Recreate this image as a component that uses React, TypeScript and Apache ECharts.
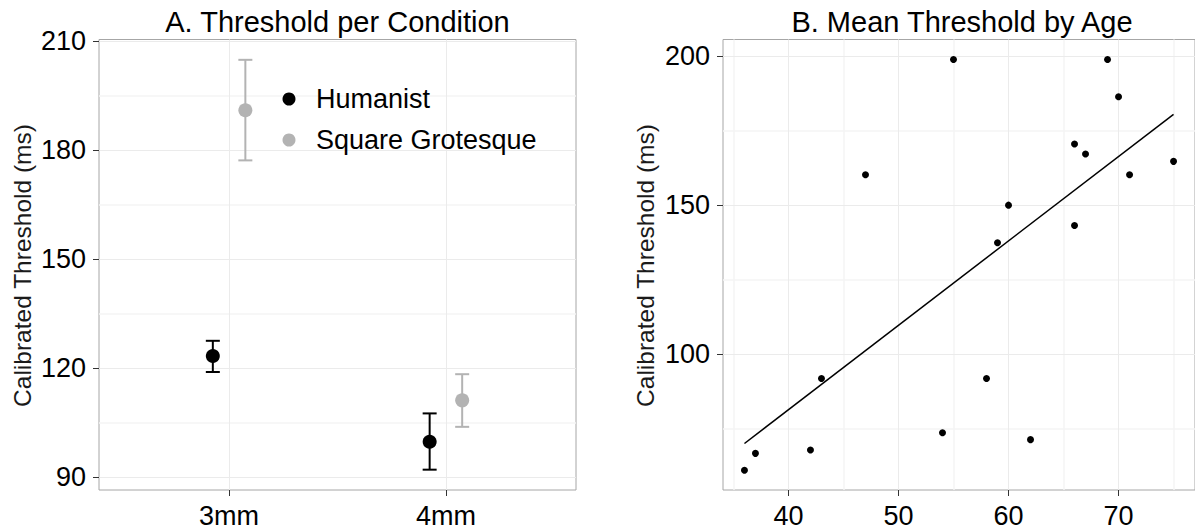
import React, { useEffect, useRef } from "react";
import * as echarts from "echarts";

// ---- Panel A data ----
const conditions = ["3mm", "4mm"];
const humanistMean = [123.3, 99.7];
const humanistLow = [118.9, 92.0];
const humanistHigh = [127.5, 107.5];
const grotesqueMean = [191.0, 111.1];
const grotesqueLow = [177.2, 103.8];
const grotesqueHigh = [204.9, 118.3];
const yTicksA = [90, 120, 150, 180, 210];
const yMinorA = [105, 135, 165, 195];

// ---- Panel B data ----
const ages = [36, 37, 42, 43, 47, 54, 55, 58, 59, 60, 62, 66, 66, 67, 69, 70, 71, 75];
const meanThresholds = [61.0, 66.7, 67.8, 91.8, 160.2, 73.6, 198.9, 91.8, 137.4, 150.0, 71.3, 170.5, 143.2, 167.2, 198.9, 186.4, 160.2, 164.7];
const trendAges = [36, 75];
const trendThresholds = [70.0, 180.5];
const xTicksB = [40, 50, 60, 70];
const xMinorB = [35, 45, 55, 65, 75];
const yTicksB = [100, 150, 200];
const yMinorB = [75, 125, 175];

const FONT = '"Liberation Sans", Arial, Helvetica, sans-serif';
const BLACK = "#000000";
const GREY = "#b3b3b3";
const MAJOR = "#ebebeb";
const MINOR = "#f5f5f5";
const TICK = "#333333";
const DODGE = 0.075;

const gridLines = (xs: number[], ys: number[], color: string, width: number) =>
  [...xs.map((v) => ({ xAxis: v })), ...ys.map((v) => ({ yAxis: v }))].map((d) => ({
    ...d,
    lineStyle: { color, width, type: "solid" as const },
  }));

const errorBarSeries = (name: string, xi: number, yi: number, data: number[][], color: string) => ({
  name,
  type: "custom" as const,
  xAxisIndex: xi,
  yAxisIndex: yi,
  z: 3,
  silent: true,
  encode: { x: 0, y: [1, 2] },
  data,
  renderItem: (params: any, api: any) => {
    const x = api.value(0);
    const lo = api.coord([x, api.value(1)]);
    const hi = api.coord([x, api.value(2)]);
    const hw = 7;
    const st = { stroke: color, lineWidth: 2 };
    return {
      type: "group",
      children: [
        { type: "line", shape: { x1: lo[0], y1: lo[1], x2: hi[0], y2: hi[1] }, style: st },
        { type: "line", shape: { x1: lo[0] - hw, y1: lo[1], x2: lo[0] + hw, y2: lo[1] }, style: st },
        { type: "line", shape: { x1: hi[0] - hw, y1: hi[1], x2: hi[0] + hw, y2: hi[1] }, style: st },
      ],
    };
  },
});

export default function App() {
  const ref = useRef<HTMLDivElement>(null);
  useEffect(() => {
    if (!ref.current) return;
    const chart = echarts.init(ref.current, null, { renderer: "svg" });
    const tickCommon = { show: true, length: 6, lineStyle: { color: TICK, width: 1 } };
    const labelCommon = { color: BLACK, fontSize: 27, fontFamily: FONT };
    const xPos = (i: number, off: number) => i + 1 + off;

    chart.setOption({
      animation: false,
      backgroundColor: "#ffffff",
      grid: [
        { left: 99, top: 39.5, width: 477, height: 452, show: true, borderColor: "#a6a6a6", borderWidth: 1, backgroundColor: "transparent" },
        { left: 723, top: 39.5, width: 478, height: 452, show: true, borderColor: "#a6a6a6", borderWidth: 1, backgroundColor: "transparent" },
      ],
      xAxis: [
        {
          gridIndex: 0, type: "value", min: 0.4, max: 2.6,
          axisLine: { show: false },
          axisTick: { ...tickCommon, customValues: [1, 2] },
          axisLabel: { ...labelCommon, margin: 12, customValues: [1, 2], formatter: (v: number) => conditions[Math.round(v) - 1] },
          splitLine: { show: false },
        },
        {
          gridIndex: 1, type: "value", min: 34.05, max: 76.95,
          axisLine: { show: false },
          axisTick: { ...tickCommon, customValues: xTicksB },
          axisLabel: { ...labelCommon, margin: 12, customValues: xTicksB },
          splitLine: { show: false },
        },
      ],
      yAxis: [
        {
          gridIndex: 0, type: "value", min: 86.4, max: 210.5,
          axisLine: { show: false },
          axisTick: { ...tickCommon, customValues: yTicksA },
          axisLabel: { ...labelCommon, margin: 13, customValues: yTicksA },
          splitLine: { show: false },
        },
        {
          gridIndex: 1, type: "value", min: 54.4, max: 205.6,
          axisLine: { show: false },
          axisTick: { ...tickCommon, customValues: yTicksB },
          axisLabel: { ...labelCommon, margin: 13, customValues: yTicksB },
          splitLine: { show: false },
        },
      ],
      graphic: [
        { type: "text", z: 100, x: 337.5, y: 22, style: { text: "A. Threshold per Condition", fill: BLACK, fontSize: 29, fontFamily: FONT, align: "center", verticalAlign: "middle" } },
        { type: "text", z: 100, x: 962, y: 22, style: { text: "B. Mean Threshold by Age", fill: BLACK, fontSize: 29, fontFamily: FONT, align: "center", verticalAlign: "middle" } },
        { type: "text", z: 100, x: 22, y: 265.5, rotation: Math.PI / 2, style: { text: "Calibrated Threshold (ms)", fill: "#1a1a1a", fontSize: 24.5, fontFamily: FONT, align: "center", verticalAlign: "middle" } },
        { type: "text", z: 100, x: 645, y: 265.5, rotation: Math.PI / 2, style: { text: "Calibrated Threshold (ms)", fill: "#1a1a1a", fontSize: 24.5, fontFamily: FONT, align: "center", verticalAlign: "middle" } },
        { type: "circle", z: 100, shape: { cx: 289, cy: 99, r: 6.5 }, style: { fill: BLACK } },
        { type: "circle", z: 100, shape: { cx: 289, cy: 140, r: 6.5 }, style: { fill: GREY } },
        { type: "text", z: 100, x: 316, y: 99, style: { text: "Humanist", fill: BLACK, fontSize: 27, fontFamily: FONT, align: "left", verticalAlign: "middle" } },
        { type: "text", z: 100, x: 316, y: 140, style: { text: "Square Grotesque", fill: BLACK, fontSize: 27, fontFamily: FONT, align: "left", verticalAlign: "middle" } },
      ],
      series: [
        {
          name: "gridA", type: "scatter", xAxisIndex: 0, yAxisIndex: 0, data: [], silent: true,
          markLine: {
            z: 1, silent: true, symbol: "none", label: { show: false }, emphasis: { disabled: true },
            data: [...gridLines([], yMinorA, MINOR, 1.5), ...gridLines([1, 2], yTicksA, MAJOR, 1)],
          },
        },
        {
          name: "gridB", type: "scatter", xAxisIndex: 1, yAxisIndex: 1, data: [], silent: true,
          markLine: {
            z: 1, silent: true, symbol: "none", label: { show: false }, emphasis: { disabled: true },
            data: [...gridLines(xMinorB, yMinorB, MINOR, 1.5), ...gridLines(xTicksB, yTicksB, MAJOR, 1)],
          },
        },
        errorBarSeries("Humanist SE", 0, 0, conditions.map((_, i) => [xPos(i, -DODGE), humanistLow[i], humanistHigh[i]]), BLACK),
        errorBarSeries("Square Grotesque SE", 0, 0, conditions.map((_, i) => [xPos(i, DODGE), grotesqueLow[i], grotesqueHigh[i]]), GREY),
        {
          name: "Humanist", type: "scatter", xAxisIndex: 0, yAxisIndex: 0, z: 4, symbolSize: 14,
          itemStyle: { color: BLACK, opacity: 1 },
          data: conditions.map((_, i) => [xPos(i, -DODGE), humanistMean[i]]),
        },
        {
          name: "Square Grotesque", type: "scatter", xAxisIndex: 0, yAxisIndex: 0, z: 4, symbolSize: 14,
          itemStyle: { color: GREY, opacity: 1 },
          data: conditions.map((_, i) => [xPos(i, DODGE), grotesqueMean[i]]),
        },
        {
          name: "Participants", type: "scatter", xAxisIndex: 1, yAxisIndex: 1, z: 4, symbolSize: 7,
          itemStyle: { color: BLACK, opacity: 1 },
          data: ages.map((a, i) => [a, meanThresholds[i]]),
        },
        {
          name: "Linear fit", type: "line", xAxisIndex: 1, yAxisIndex: 1, z: 3, symbol: "none",
          lineStyle: { color: BLACK, width: 1.5 },
          data: trendAges.map((a, i) => [a, trendThresholds[i]]),
        },
      ],
    });
    return () => chart.dispose();
  }, []);
  return (
    <div
      ref={ref}
      style={{ position: "fixed", left: 0, top: 0, width: 1195, height: 529, background: "#fff" }}
    />
  );
}
